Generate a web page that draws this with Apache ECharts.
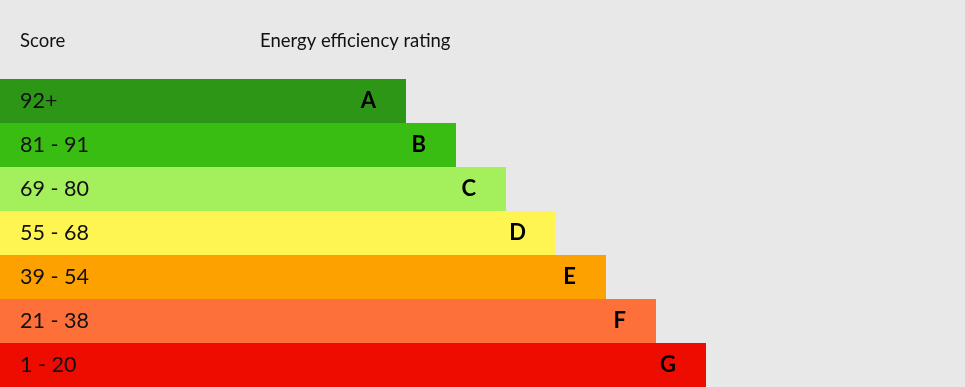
<!DOCTYPE html>
<html><head><meta charset="utf-8">
<script src="https://cdn.jsdelivr.net/npm/echarts@6/dist/echarts.min.js"></script>
<style>html,body{margin:0;padding:0;background:#e8e8e8}#c{width:965px;height:387px}</style>
</head><body><div id="c"></div>
<script>
const ratings = ['A','B','C','D','E','F','G'];
const scoreRanges = ['92+','81 - 91','69 - 80','55 - 68','39 - 54','21 - 38','1 - 20'];
const barLengths = [406,456,506,556,606,656,706];
const barColors = ['#2e9616','#3abd12','#a3ef5c','#fef552','#fda100','#fe703a','#ee0c00'];
const headers = ['Score','Energy efficiency rating'];

const chart = echarts.init(document.getElementById('c'));
chart.setOption({
  backgroundColor:'#e8e8e8',
  animation:false,
  title:[
    {text:headers[0],left:15,top:27,textStyle:{fontFamily:'Lato',fontSize:18.5,fontWeight:'normal',color:'#111'}},
    {text:headers[1],left:255,top:27,textStyle:{fontFamily:'Lato',fontSize:18.5,fontWeight:'normal',color:'#111'}}
  ],
  grid:{left:0,right:0,top:79,bottom:0},
  xAxis:{type:'value',min:0,max:965,show:false},
  yAxis:{type:'category',inverse:true,data:scoreRanges,
    axisLine:{show:false},axisTick:{show:false},
    axisLabel:{inside:true,margin:20,fontFamily:'Lato',fontSize:21.5,color:'#111',padding:[3,0,0,0]},z:10},
  series:[{
    type:'bar',barCategoryGap:0,
    data:barLengths.map((v,i)=>({value:v,itemStyle:{color:barColors[i]}})),
    label:{show:true,position:'insideRight',distance:30,
      formatter:p=>ratings[p.dataIndex],fontFamily:'Lato',fontWeight:'bold',fontSize:22,color:'#000'}
  }]
});
</script></body></html>
